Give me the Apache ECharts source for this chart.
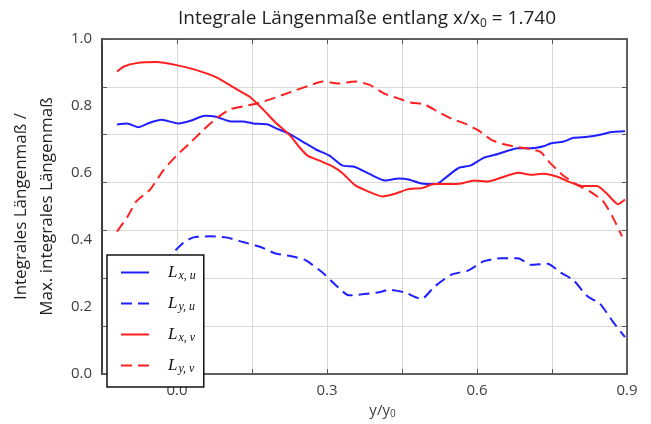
<!DOCTYPE html>
<html><head><meta charset="utf-8">
<script src="https://cdn.jsdelivr.net/npm/echarts/dist/echarts.min.js"></script>
<style>html,body{margin:0;padding:0;background:#fff}#c{width:651px;height:424px}</style>
</head><body><div id="c"></div>
<script>
const titleText = 'Integrale Längenmaße entlang x/x{s|0} = 1.740';
const xAxisTitle = 'y/y{s|0}';
const yAxisTitle = 'Integrales Längenmaß /\nMax. integrales Längenmaß';
const xLabelValues = [0.0, 0.3, 0.6, 0.9];
const seriesNames = ['Lx,u', 'Ly,u', 'Lx,v', 'Ly,v'];
const legendSubs = ['x, u', 'y, u', 'x, v', 'y, v'];

// L_x,u (blue solid)
const lxuX = [-0.120,-0.100,-0.077,-0.053,-0.031,0.003,0.027,0.056,0.078,0.108,0.132,0.152,0.182,0.197,0.225,0.251,0.277,0.305,0.330,0.356,0.384,0.416,0.444,0.463,0.489,0.519,0.533,0.563,0.588,0.614,0.642,0.682,0.708,0.733,0.747,0.773,0.793,0.821,0.846,0.866,0.896];
const lxuY = [0.745,0.748,0.737,0.751,0.759,0.748,0.756,0.771,0.768,0.754,0.754,0.748,0.745,0.734,0.717,0.694,0.671,0.652,0.623,0.618,0.598,0.578,0.584,0.581,0.569,0.567,0.581,0.615,0.623,0.646,0.657,0.674,0.674,0.680,0.688,0.694,0.705,0.708,0.714,0.722,0.725];

// L_y,u (blue dashed)
const lyuX = [-0.120,-0.067,-0.027,0.013,0.033,0.066,0.098,0.132,0.166,0.197,0.231,0.257,0.291,0.317,0.344,0.370,0.404,0.424,0.455,0.489,0.515,0.549,0.582,0.614,0.648,0.682,0.708,0.741,0.767,0.793,0.821,0.846,0.872,0.896];
const lyuY = [0.270,0.300,0.335,0.392,0.408,0.411,0.408,0.394,0.380,0.360,0.351,0.340,0.303,0.266,0.235,0.238,0.244,0.252,0.244,0.224,0.261,0.297,0.309,0.337,0.346,0.346,0.326,0.329,0.303,0.280,0.232,0.210,0.156,0.110];

// L_x,v (red solid)
const lxvX = [-0.120,-0.106,-0.081,-0.041,-0.001,0.039,0.078,0.118,0.146,0.172,0.197,0.225,0.245,0.261,0.285,0.311,0.330,0.356,0.384,0.410,0.436,0.463,0.489,0.515,0.543,0.569,0.594,0.622,0.648,0.682,0.708,0.733,0.761,0.787,0.813,0.840,0.860,0.882,0.896];
const lxvY = [0.903,0.918,0.928,0.931,0.922,0.907,0.886,0.851,0.827,0.790,0.751,0.714,0.677,0.652,0.637,0.620,0.601,0.564,0.544,0.530,0.538,0.552,0.555,0.567,0.567,0.569,0.578,0.575,0.586,0.601,0.595,0.598,0.589,0.572,0.561,0.561,0.538,0.507,0.521];

// L_y,v (red dashed)
const lyvX = [-0.120,-0.100,-0.081,-0.053,-0.027,-0.001,0.027,0.052,0.078,0.106,0.132,0.158,0.185,0.211,0.237,0.265,0.291,0.324,0.356,0.384,0.416,0.444,0.469,0.495,0.523,0.549,0.575,0.602,0.628,0.654,0.682,0.708,0.727,0.747,0.773,0.801,0.827,0.852,0.872,0.890];
const lyvY = [0.425,0.467,0.516,0.552,0.609,0.652,0.691,0.728,0.762,0.790,0.799,0.807,0.819,0.833,0.847,0.861,0.873,0.867,0.873,0.864,0.836,0.822,0.810,0.805,0.782,0.762,0.748,0.728,0.700,0.686,0.677,0.671,0.663,0.629,0.592,0.564,0.544,0.516,0.467,0.411];

const pairs = (xs, ys) => xs.map((x, i) => [x, ys[i]]);
const BLUE = '#1f1fff', RED = '#ff1f1f';
const FONT = 'Open Sans';
const frame = { show: true, onZero: false, lineStyle: { color: '#333', width: 1.5 } };
const tickIn = { show: true, inside: true, length: 5, lineStyle: { color: '#555', width: 1 } };

const chart = echarts.init(document.getElementById('c'), null, { renderer: 'canvas' });
chart.setOption({
  animation: false,
  backgroundColor: '#fff',
  title: {
    text: titleText, left: 362, top: 3, textAlign: 'center',
    textStyle: { fontFamily: FONT, fontSize: 19, fontWeight: 'normal', color: '#222',
      rich: { s: { fontFamily: FONT, fontSize: 12, color: '#222', padding: [10, 0, 0, 0] } } }
  },
  grid: { left: 98, right: 24, top: 39, bottom: 32, containLabel: false },
  legend: {
    orient: 'vertical', left: 107, top: 255, itemWidth: 28, itemHeight: 14, itemGap: 13,
    padding: [9, 8, 12, 13], borderColor: '#111', borderWidth: 1.5, backgroundColor: '#fff',
    data: seriesNames,
    itemStyle: { opacity: 0 },
    formatter: (n) => '{L|L}{s|' + legendSubs[seriesNames.indexOf(n)] + '}',
    textStyle: {
      rich: {
        L: { fontFamily: 'Liberation Serif', fontStyle: 'italic', fontSize: 17, color: '#111', padding: [0, 0, 0, 14] },
        s: { fontFamily: 'Liberation Serif', fontStyle: 'italic', fontSize: 12, color: '#111', padding: [7, 0, 0, 1] }
      }
    }
  },
  xAxis: [
    { type: 'value', position: 'bottom', min: -0.15, max: 0.9, interval: 0.15,
      axisLine: frame, axisTick: tickIn,
      splitLine: { show: true, lineStyle: { color: '#d9d9d9', width: 1 } },
      axisLabel: { margin: 9, fontFamily: FONT, fontSize: 15, color: '#404040',
        formatter: (v) => xLabelValues.some(t => Math.abs(t - v) < 1e-6) ? v.toFixed(1) : '' },
      name: xAxisTitle, nameLocation: 'middle', nameGap: 10,
      nameTextStyle: { fontFamily: FONT, fontSize: 15, color: '#404040', padding: [0, 0, 0, 36],
        rich: { s: { fontFamily: FONT, fontSize: 10, color: '#404040', padding: [7, 0, 0, 0] } } } },
    { type: 'value', position: 'top', min: -0.15, max: 0.9, interval: 0.15,
      axisLine: frame, axisTick: tickIn, axisLabel: { show: false }, splitLine: { show: false } }
  ],
  yAxis: [
    { type: 'value', position: 'left', min: 0, max: 1, interval: 0.2,
      axisLine: frame, axisTick: { show: false }, splitLine: { show: false },
      axisLabel: { margin: 10, fontFamily: FONT, fontSize: 15, color: '#404040', formatter: (v) => v.toFixed(1) },
      name: yAxisTitle, nameLocation: 'middle', nameGap: 38,
      nameTextStyle: { fontFamily: FONT, fontSize: 17, lineHeight: 26, color: '#222' } },
    { type: 'value', position: 'left', min: 0, max: 7, interval: 1,
      axisLine: frame, axisTick: tickIn, axisLabel: { show: false },
      splitLine: { show: true, lineStyle: { color: '#d9d9d9', width: 1 } } },
    { type: 'value', position: 'right', min: 0, max: 7, interval: 1,
      axisLine: frame, axisTick: tickIn, axisLabel: { show: false }, splitLine: { show: false } }
  ],
  series: [
    { name: seriesNames[0], type: 'line', data: pairs(lxuX, lxuY), symbol: 'none', smooth: 0.2, color: BLUE,
      lineStyle: { color: BLUE, width: 2 } },
    { name: seriesNames[1], type: 'line', data: pairs(lyuX, lyuY), symbol: 'none', smooth: 0.2, color: BLUE,
      lineStyle: { color: BLUE, width: 2, type: [11, 6] } },
    { name: seriesNames[2], type: 'line', data: pairs(lxvX, lxvY), symbol: 'none', smooth: 0.2, color: RED,
      lineStyle: { color: RED, width: 2 } },
    { name: seriesNames[3], type: 'line', data: pairs(lyvX, lyvY), symbol: 'none', smooth: 0.2, color: RED,
      lineStyle: { color: RED, width: 2, type: [11, 6] } }
  ]
});
</script></body></html>
